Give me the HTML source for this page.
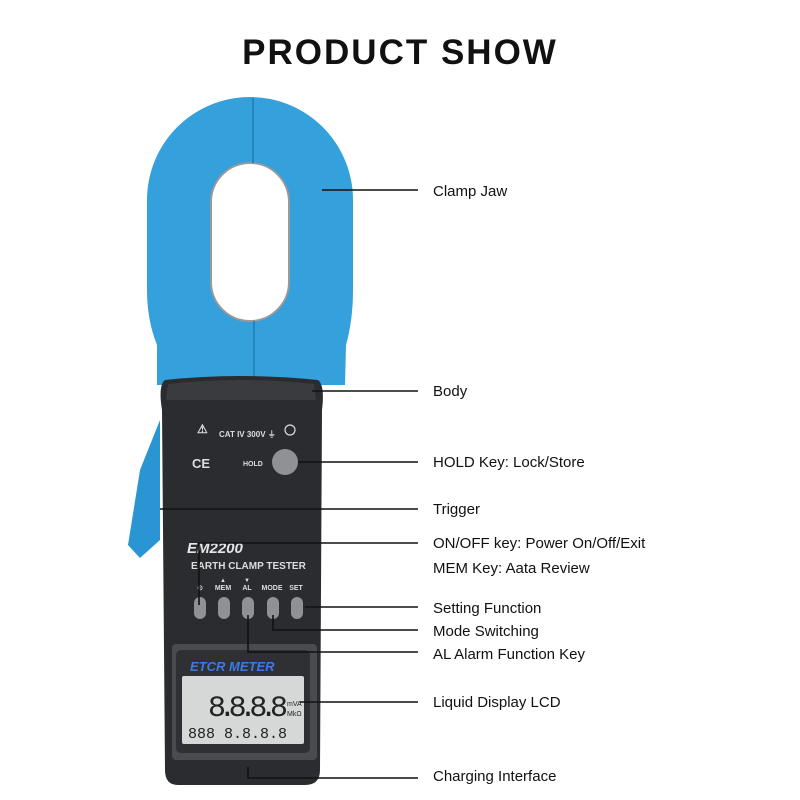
<!DOCTYPE html>
<html><head><meta charset="utf-8"><style>
html,body{margin:0;padding:0;background:#fff;width:800px;height:800px;overflow:hidden}
svg{display:block}
.l{font-family:"Liberation Sans",sans-serif;font-size:15px;fill:#111}
.w{font-family:"Liberation Sans",sans-serif;font-weight:bold;fill:#ddd}
</style></head><body>
<svg width="800" height="800" viewBox="0 0 800 800">
<text x="400" y="64" text-anchor="middle" font-family="Liberation Sans,sans-serif" font-weight="bold" font-size="35" letter-spacing="2" fill="#111">PRODUCT SHOW</text>
<!-- trigger -->
<path d="M160 420 L140 470 L128 545 L140 558 L160 540 Z" fill="#2a95d3"/>
<!-- clamp -->
<path d="M157 385 L157 345 Q147 320 147 290 L147 200 A103 103 0 0 1 353 200 L353 290 Q353 320 346 345 L345 385 Z" fill="#34a0dc"/>
<rect x="211" y="163" width="78" height="158" rx="39" fill="#fff" stroke="#999" stroke-width="2"/>
<line x1="253" y1="98" x2="253" y2="163" stroke="#1f7bb3" stroke-width="1.5"/>
<line x1="254" y1="321" x2="254" y2="385" stroke="#1f7bb3" stroke-width="1.5"/>
<!-- body -->
<path d="M165 380 Q240 372 318 380 Q325 385 322 410 L320 770 Q320 785 305 785 L178 785 Q165 785 165 770 L162 410 Q158 385 165 380 Z" fill="#2b2c2f"/>
<path d="M168 384 Q240 376 314 384 L316 400 L166 400 Z" fill="#3a3b3f"/>
<text x="197" y="433" class="w" font-size="12">⚠</text>
<text x="219" y="437" class="w" font-size="8">CAT  IV 300V  ⏚</text>
<circle cx="290" cy="430" r="5" fill="none" stroke="#ddd" stroke-width="1.2"/>
<text x="192" y="468" class="w" font-size="13">CE</text>
<text x="243" y="466" class="w" font-size="7">HOLD</text>
<circle cx="285" cy="462" r="13" fill="#8f9195"/>
<text x="187" y="553" font-family="Liberation Sans,sans-serif" font-style="italic" font-weight="bold" font-size="15" fill="#e6e6e6">EM2200</text>
<text x="191" y="569" class="w" font-size="10">EARTH CLAMP TESTER</text>
<text x="200" y="590" class="w" font-size="7" text-anchor="middle">⊙</text>
<text x="223" y="582" class="w" font-size="6" text-anchor="middle">▲</text>
<text x="223" y="590" class="w" font-size="7" text-anchor="middle">MEM</text>
<text x="247" y="582" class="w" font-size="6" text-anchor="middle">▼</text>
<text x="247" y="590" class="w" font-size="7" text-anchor="middle">AL</text>
<text x="272" y="590" class="w" font-size="7" text-anchor="middle">MODE</text>
<text x="296" y="590" class="w" font-size="7" text-anchor="middle">SET</text>
<g fill="#8f9195">
<rect x="194" y="597" width="12" height="22" rx="6"/>
<rect x="218" y="597" width="12" height="22" rx="6"/>
<rect x="242" y="597" width="12" height="22" rx="6"/>
<rect x="267" y="597" width="12" height="22" rx="6"/>
<rect x="291" y="597" width="12" height="22" rx="6"/>
</g>
<rect x="172" y="644" width="145" height="116" rx="4" fill="#4a4b4e"/>
<rect x="176" y="650" width="134" height="103" rx="5" fill="#2f3033"/>
<text x="190" y="671" font-family="Liberation Sans,sans-serif" font-style="italic" font-weight="bold" font-size="13" fill="#3a7be8">ETCR METER</text>
<rect x="182" y="676" width="122" height="68" rx="2" fill="#d6d8d8"/>
<text x="208" y="716" font-family="Liberation Mono,monospace" font-size="30" fill="#222" textLength="80">8.8.8.8</text>
<text x="287" y="706" font-family="Liberation Sans,sans-serif" font-size="7" fill="#222">mVA</text>
<text x="287" y="716" font-family="Liberation Sans,sans-serif" font-size="7" fill="#222">MkΩ</text>
<text x="188" y="738" font-family="Liberation Mono,monospace" font-size="15" fill="#222">888 8.8.8.8</text>
<!-- leaders -->
<g stroke="#111" stroke-width="1.6" fill="none">
<path d="M322 190 H418"/>
<path d="M312 391 H418"/>
<path d="M298 462 H418"/>
<path d="M160 509 H418"/>
<path d="M199 605 V543 H418"/>
<path d="M305 607 H418"/>
<path d="M273 615 V630 H418"/>
<path d="M248 615 V652 H418"/>
<path d="M300 702 H418"/>
<path d="M248 767 V778 H418"/>
</g>
<text class="l" x="433" y="196">Clamp Jaw</text>
<text class="l" x="433" y="396">Body</text>
<text class="l" x="433" y="467">HOLD Key: Lock/Store</text>
<text class="l" x="433" y="514">Trigger</text>
<text class="l" x="433" y="548">ON/OFF key:  Power On/Off/Exit</text>
<text class="l" x="433" y="573">MEM Key:  Aata Review</text>
<text class="l" x="433" y="613">Setting Function</text>
<text class="l" x="433" y="636">Mode Switching</text>
<text class="l" x="433" y="659">AL Alarm Function Key</text>
<text class="l" x="433" y="707">Liquid Display LCD</text>
<text class="l" x="433" y="781">Charging Interface</text>
</svg>
</body></html>
